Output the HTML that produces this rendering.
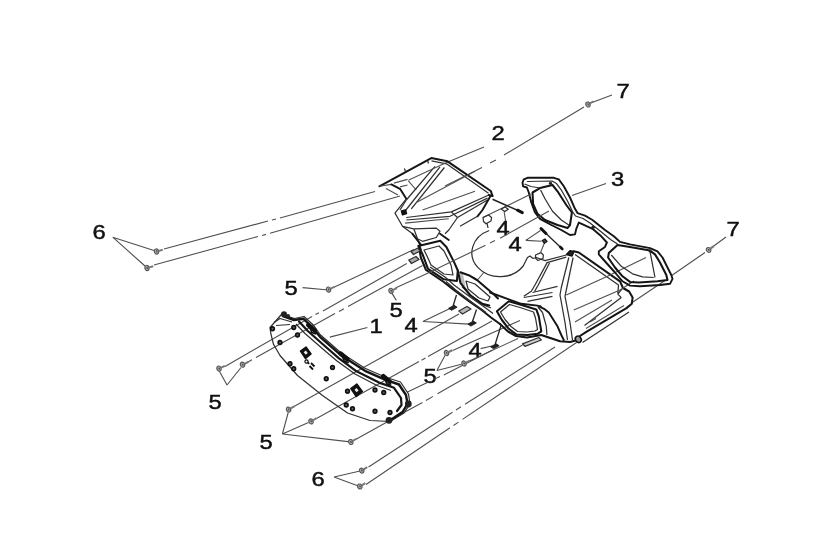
<!DOCTYPE html>
<html><head><meta charset="utf-8">
<style>
html,body{margin:0;padding:0;background:#fff;}
svg{display:block;filter:blur(0.45px);}
text{font-family:"Liberation Sans",sans-serif;font-size:20px;fill:#111;stroke:#111;stroke-width:0.45px;}
.t{fill:none;stroke:#505050;stroke-width:1.1;}
.m{fill:none;stroke:#303030;stroke-width:1.25;stroke-linejoin:round;}
.k{fill:none;stroke:#151515;stroke-width:2.05;stroke-linejoin:round;stroke-linecap:round;}
.b{fill:#222;stroke:none;}
</style></head><body>
<svg width="819" height="560" viewBox="0 0 819 560">
<rect width="819" height="560" fill="#fff"/>
<g id="labels">
<text transform="translate(623,97.9) scale(1.19,1)" text-anchor="middle">7</text>
<text transform="translate(498,140.4) scale(1.19,1)" text-anchor="middle">2</text>
<text transform="translate(617.5,185.70000000000002) scale(1.19,1)" text-anchor="middle">3</text>
<text transform="translate(733,235.9) scale(1.19,1)" text-anchor="middle">7</text>
<text transform="translate(99,238.9) scale(1.19,1)" text-anchor="middle">6</text>
<text transform="translate(503,234.9) scale(1.19,1)" text-anchor="middle">4</text>
<text transform="translate(515,250.9) scale(1.19,1)" text-anchor="middle">4</text>
<text transform="translate(291,294.9) scale(1.19,1)" text-anchor="middle">5</text>
<text transform="translate(396,316.9) scale(1.19,1)" text-anchor="middle">5</text>
<text transform="translate(411,331.9) scale(1.19,1)" text-anchor="middle">4</text>
<text transform="translate(376,332.9) scale(1.19,1)" text-anchor="middle">1</text>
<text transform="translate(475,356.9) scale(1.19,1)" text-anchor="middle">4</text>
<text transform="translate(430,382.9) scale(1.19,1)" text-anchor="middle">5</text>
<text transform="translate(215,408.9) scale(1.19,1)" text-anchor="middle">5</text>
<text transform="translate(266,448.9) scale(1.19,1)" text-anchor="middle">5</text>
<text transform="translate(318,485.9) scale(1.19,1)" text-anchor="middle">6</text>
</g>
<g id="lines" class="t">

<path d="M612,95 L592,102.5"/>
<path d="M584,107 L504,155 M496,160 L490,163 M482,167.5 L445,186"/>
<path d="M484,147 L446,162.8"/>
<path d="M606,183.4 L572,195.6"/>
<path d="M112.7,237.2 L154,250.5 M112.7,237.2 L145,266"/>
<path d="M164,249 L268,221 M272,220 L276,219 M280,218 L375,191.5"/>
<path d="M154,265 L258,236.5 M262,235.5 L266,234.4 M270,233.3 L400,196"/>
<path d="M302.6,287.6 L326,289.8"/>
<path d="M334,287.3 L413.8,249.6"/>
<path d="M395.4,288.1 L426,274.1"/>
<path d="M391,291.6 L396.3,300.4"/>
<path d="M367.4,327.5 L329.8,337.1"/>
<path d="M422.9,321.5 L450,308.4 M422.9,321.5 L469.3,324.1"/>
<path d="M480.6,348.6 L492,346"/>
<path d="M436.9,370.5 L445,355.5 M436.9,370.5 L461.5,364.2"/>
<path d="M726,237 L711,248 M705,252.5 L671,276"/>
<path d="M227,385 L219.5,371.5 M227,385 L241,367.5"/>
<path d="M282.4,434 L288.2,412.5 M282.4,434 L308.5,422.5 M282.4,434 L348,441.6"/>
<path d="M334,477 L359,471.3 M334,477 L357,485.5"/>
<path d="M368.5,467 L452.5,412.2 M456,410 L461,406.8 M465,404.2 L555,347"/>
<path d="M366,484.5 L450,427.8 M453.5,425.5 L458.5,422.1 M462.5,419.4 L578,341.5"/>
<path d="M665,280.5 L633,302"/>
<!-- C1 C2 -->
<path d="M225,366.4 L312,316.5 M315.5,314.6 L319,312.8 M323,311 L406.8,263.6"/>
<path d="M248,362 L252,359.8 M256,357.5 L335,313.6 M339,311.4 L344,308.7 M348,306.5 L422.5,265.4"/>
<!-- D1 D2 D3 -->
<path d="M294,406.6 L459,314"/>
<path d="M316.5,418.4 L419,361.6 M421.5,360.2 L425.5,358 M428,356.6 L492,321"/>
<path d="M356,439.2 L388,421.5 M392,419 L422.5,402.5 M426,400.5 L433,396.4 M437.5,393.8 L522.5,345"/>
<path d="M407,392.2 L430,381.3 M434,379.3 L440,376.6 M443.8,375 L492.5,350"/>
<!-- bolts 5 right -->
<path d="M452.6,350.4 L520,320.5 M469.3,360.9 L518,338.5"/>

</g>
<g id="bolts">
<g transform="translate(588,104.5) rotate(-30)"><ellipse cx="0" cy="0" rx="2.1" ry="2.6" fill="#bbb" stroke="#555" stroke-width="1.2"/><ellipse cx="0.2" cy="0" rx="0.9" ry="1.2" fill="#555" stroke="none"/><path d="M2.3,0 L6.5,0" stroke="#777" stroke-width="2" fill="none"/></g>
<g transform="translate(708.6,250) rotate(-37)"><ellipse cx="0" cy="0" rx="2.1" ry="2.6" fill="#bbb" stroke="#555" stroke-width="1.2"/><ellipse cx="0.2" cy="0" rx="0.9" ry="1.2" fill="#555" stroke="none"/><path d="M2.3,0 L6.5,0" stroke="#777" stroke-width="2" fill="none"/></g>
<g transform="translate(156.5,251.5) rotate(-15)"><ellipse cx="0" cy="0" rx="2.1" ry="2.6" fill="#bbb" stroke="#555" stroke-width="1.2"/><ellipse cx="0.2" cy="0" rx="0.9" ry="1.2" fill="#555" stroke="none"/><path d="M2.3,0 L6.5,0" stroke="#777" stroke-width="2" fill="none"/></g>
<g transform="translate(147,268) rotate(-15)"><ellipse cx="0" cy="0" rx="2.1" ry="2.6" fill="#bbb" stroke="#555" stroke-width="1.2"/><ellipse cx="0.2" cy="0" rx="0.9" ry="1.2" fill="#555" stroke="none"/><path d="M2.3,0 L6.5,0" stroke="#777" stroke-width="2" fill="none"/></g>
<g transform="translate(328.5,289.6) rotate(-25)"><ellipse cx="0" cy="0" rx="2.1" ry="2.6" fill="#bbb" stroke="#555" stroke-width="1.2"/><ellipse cx="0.2" cy="0" rx="0.9" ry="1.2" fill="#555" stroke="none"/><path d="M2.3,0 L6.5,0" stroke="#777" stroke-width="2" fill="none"/></g>
<g transform="translate(219,368.6) rotate(-25)"><ellipse cx="0" cy="0" rx="2.1" ry="2.6" fill="#bbb" stroke="#555" stroke-width="1.2"/><ellipse cx="0.2" cy="0" rx="0.9" ry="1.2" fill="#555" stroke="none"/><path d="M2.3,0 L6.5,0" stroke="#777" stroke-width="2" fill="none"/></g>
<g transform="translate(242.5,364.7) rotate(-25)"><ellipse cx="0" cy="0" rx="2.1" ry="2.6" fill="#bbb" stroke="#555" stroke-width="1.2"/><ellipse cx="0.2" cy="0" rx="0.9" ry="1.2" fill="#555" stroke="none"/><path d="M2.3,0 L6.5,0" stroke="#777" stroke-width="2" fill="none"/></g>
<g transform="translate(288.6,409.6) rotate(-30)"><ellipse cx="0" cy="0" rx="2.1" ry="2.6" fill="#bbb" stroke="#555" stroke-width="1.2"/><ellipse cx="0.2" cy="0" rx="0.9" ry="1.2" fill="#555" stroke="none"/><path d="M2.3,0 L6.5,0" stroke="#777" stroke-width="2" fill="none"/></g>
<g transform="translate(311,421.4) rotate(-30)"><ellipse cx="0" cy="0" rx="2.1" ry="2.6" fill="#bbb" stroke="#555" stroke-width="1.2"/><ellipse cx="0.2" cy="0" rx="0.9" ry="1.2" fill="#555" stroke="none"/><path d="M2.3,0 L6.5,0" stroke="#777" stroke-width="2" fill="none"/></g>
<g transform="translate(350.8,442) rotate(-30)"><ellipse cx="0" cy="0" rx="2.1" ry="2.6" fill="#bbb" stroke="#555" stroke-width="1.2"/><ellipse cx="0.2" cy="0" rx="0.9" ry="1.2" fill="#555" stroke="none"/><path d="M2.3,0 L6.5,0" stroke="#777" stroke-width="2" fill="none"/></g>
<g transform="translate(361.7,470.6) rotate(-32)"><ellipse cx="0" cy="0" rx="2.1" ry="2.6" fill="#bbb" stroke="#555" stroke-width="1.2"/><ellipse cx="0.2" cy="0" rx="0.9" ry="1.2" fill="#555" stroke="none"/><path d="M2.3,0 L6.5,0" stroke="#777" stroke-width="2" fill="none"/></g>
<g transform="translate(359.8,486.5) rotate(-32)"><ellipse cx="0" cy="0" rx="2.1" ry="2.6" fill="#bbb" stroke="#555" stroke-width="1.2"/><ellipse cx="0.2" cy="0" rx="0.9" ry="1.2" fill="#555" stroke="none"/><path d="M2.3,0 L6.5,0" stroke="#777" stroke-width="2" fill="none"/></g>
<g transform="translate(391,290.8) rotate(-25)"><ellipse cx="0" cy="0" rx="2.1" ry="2.6" fill="#bbb" stroke="#555" stroke-width="1.2"/><ellipse cx="0.2" cy="0" rx="0.9" ry="1.2" fill="#555" stroke="none"/><path d="M2.3,0 L6.5,0" stroke="#777" stroke-width="2" fill="none"/></g>
<g transform="translate(446.5,353) rotate(-25)"><ellipse cx="0" cy="0" rx="2.1" ry="2.6" fill="#bbb" stroke="#555" stroke-width="1.2"/><ellipse cx="0.2" cy="0" rx="0.9" ry="1.2" fill="#555" stroke="none"/><path d="M2.3,0 L6.5,0" stroke="#777" stroke-width="2" fill="none"/></g>
<g transform="translate(464,363.5) rotate(-25)"><ellipse cx="0" cy="0" rx="2.1" ry="2.6" fill="#bbb" stroke="#555" stroke-width="1.2"/><ellipse cx="0.2" cy="0" rx="0.9" ry="1.2" fill="#555" stroke="none"/><path d="M2.3,0 L6.5,0" stroke="#777" stroke-width="2" fill="none"/></g>
</g>
<!-- PART 2 : main frame -->
<g id="part2">
<!-- top panel -->
<path class="k" d="M379.4,186.3 L431.3,158.1 L447.5,161.3 L490.8,191 L492.5,196"/>
<path class="m" d="M431.5,160.8 L446.5,163.8 L488.5,193.3"/>
<path class="t" d="M379.4,186.3 L391.3,184.4"/>
<path class="k" style="stroke-width:1.9" d="M391.3,184.4 L400,188.8 L406.3,198.8"/>
<path class="m" d="M406.3,198.8 L395,213.1 L397.5,217.5 L402.5,226.3 L412.5,233.8 L418.8,242.5 L421.3,250"/>
<path class="t" d="M408.1,180.6 L416.3,190 M393.8,183.1 L407.5,179.4 M400,186.9 L407.5,185 M386,188.5 L398,195"/>
<path class="m" d="M404.4,168.5 L405.5,171.5 M427.5,160.5 L428.5,163.5"/>
<!-- diagonal bar -->
<path class="m" d="M435,166.3 L406.3,200 L400,210 M440,166.9 L405.5,210.5 M444.4,167.5 L411.3,208.8"/>
<path d="M401.5,211 L405.5,210 L406.5,213.5 L402.5,214.8 Z" fill="#111" stroke="#111" stroke-width="1.5" stroke-linejoin="round"/>
<!-- 2 leader extension + 7 line through panel -->
<path class="t" d="M446,162.8 L408.8,180 M475,171.3 L416.3,202.5"/>
<!-- V panel -->
<path class="m" d="M406.3,217.5 L451.3,211.9 L488.8,195"/>
<path class="m" d="M406.3,220 L450,216.3 L487.5,198.1"/>
<path class="t" d="M405,223.1 L448.8,218.8"/>
<path class="m" d="M451.3,211.9 L457.5,217.5 L448.8,230 L445,233.8 M457.5,217.5 L487.5,200"/>
<path class="t" d="M422.5,210 L475,191.3"/>
<path class="m" d="M402.5,226.3 L413.8,228.8 L436.3,228.1 L440,231.3 L436.3,237.5 L422.5,241.3 L417.5,238.8 L413.8,228.8"/>
<path class="k" style="stroke-width:1.9" d="M492.5,196 L488.8,195 M490.5,196 L482.5,210 L477.5,216.3"/>
<path class="m" d="M460,226.3 L477.5,216.3"/>
<path class="k" style="stroke-width:1.9" d="M412.5,233.8 L421.3,245 M440,233.8 L448.8,240"/>
</g>
<g id="part2b">
<!-- vent 1 -->
<path class="k" d="M418.4,246 L440.3,240.8 L446.4,247 L454.3,262.6 L457.8,270.5 L456.9,281 L443.8,279.3 L428,268.8 L422.8,254.8 Z"/>
<path class="m" d="M424,250 L439,246 L444,251 L451,265 L453,275 L444,274 L431,265 L427,256 Z"/>
<!-- left edge going down to front edge -->
<path class="k" d="M419,248 L421,258 L426,270 L443.8,282 L452.5,289 L470,302 L482.3,310.5 L491,317.5 L500,324"/>
<path class="m" d="M430,267 L445,277 L454,285 L471.5,298 L484,306.8 L493,313.6"/>
<path class="m" d="M446,281.5 L455,289.5 L472,302.5 L484,311"/>
<path class="t" d="M483.8,272.5 L477.5,280"/>
<path d="M459,272 L463,274 L465.5,287 L461.5,283.5 Z" fill="#bbb" stroke="none"/>
<path class="m" d="M448,283.8 L457,291.2 L474,304 L486,312.6 M462,286.5 L472,296.5 L484,305.2 L491,308"/>
<!-- vent 2 -->
<path class="k" d="M460.4,272.3 L470,275.8 L477,280 L494.5,295 L498,298.5"/>
<path class="k" d="M457.8,270.5 L460.4,282.8 L470,295 L482.3,303.8 L489.3,305.5"/>
<path class="m" d="M466,281 L475,284 L490,297 L488,301 L479,298 L468,289 Z"/>
<!-- ellipse (speedo hole) -->
<path class="m" d="M489.2,230.5 A28,24 0 1 0 523.2,266 L527.5,257.5 L530,256 L533,258.5"/>
<!-- vent 3 -->
<path class="k" d="M496.9,311.3 L508.8,301.3 L520,304.4 L536.3,309.4 L538.8,316.3 L541.3,331.3 L537.5,333.8 L527.5,335 L516.3,334.4 L508.8,328.8 L501.9,320 Z"/>
<path class="m" d="M500.5,312 L509.5,304.5 L520,307.5 L533.5,312 L535.5,318 L537.5,329.5 L535,331 L527,332 L517.5,331.5 L511,326.5 L505,319.5 Z"/>
<path class="k" style="stroke-width:1.9" d="M490,292.5 L508.8,299.4 L521.3,303.8 L537.5,305.6 L545,309.4 L548.8,312.5 L557.5,326.3 L561.3,335 L563.8,340"/>
<path class="m" d="M542.5,312.5 L546.3,326.3 L546.9,335 M538,307 L542.5,312.5"/>
<circle class="b" cx="540" cy="306.5" r="1.6"/>
<path class="k" d="M500,324 L508,331.5 L516,336 L527,337.5 L541.3,335 L560,341.3 L570,341.9 L577.5,340"/>
<path class="m" d="M522.5,343.8 L538.8,337.5 L541.3,340 L525,346.3 Z" fill="#bbb" style="fill:#ccc"/>
<!-- lines above vent 3 -->
<path class="m" d="M523.8,297.5 L552.5,292.5 M527.5,301.3 L552.5,296.3"/>
<!-- column -->
<path class="m" d="M568.8,257.5 L561.3,287.5 L560,295 L565,322.5 L567.5,340 M573.1,257.5 L566.3,290 L565,296.3 L570,322.5 L572.5,340"/>
<!-- peak blob -->
<path d="M566.5,254.5 L570,250.8 L574,251.5 L572,256 Z" fill="#222" stroke="#111" stroke-width="1.5" stroke-linejoin="round"/>
<!-- right face -->
<path class="k" d="M573.8,251.3 L578.8,252.5 L620,281.3 L623,288 L629.1,291.5 L632.6,297.6 L631.8,303.8 L626.5,308.1 L586.3,331.8 L580,336"/>
<path class="m" d="M575,254.5 L618.5,285 L617.8,294.1 M617.8,294.1 L622.1,288.9 M621.3,297.6 L584.5,325.6 M617.8,294.1 L621.3,297.6"/>
<path class="m" d="M582.5,342.5 L629,312"/>
<path class="t" d="M575,322 L612,300 M586,328.5 L624,305.5 M590,322 L596,318.5"/>
<path class="t" d="M573.8,310 L620,290 L634,281 M566.3,295 L607.5,276.3 L646,257.5"/>
<ellipse cx="578.3" cy="339.3" rx="2.7" ry="3.4" fill="#999" stroke="#111" stroke-width="1.5" transform="rotate(-35 578.3 339.3)"/>
<!-- left from peak -->
<path class="m" d="M566.3,255 L545,260.6 L536.3,257.5 L533,258.5 M566.3,257.2 L546.3,262.8"/>
<path class="m" d="M546.9,263.1 L535,285 L531.3,291.3 L523.8,296.3 M549.5,263 L538,285.5 L534.5,291.5"/>
<path class="m" d="M532.5,292.5 L557.5,286.3"/>
</g>
<!-- PART 3 -->
<g id="part3">
<!-- outer -->
<path class="k" style="stroke-width:1.9" d="M522.5,182.5 L523.8,179.4 L527.5,177.8 L553.8,177.8 L558.8,179.4 L563.8,186.3 L570,197.5 L575,208.8 L577.5,213.1 L585,215.6 L592.5,220 L605,230 L613.8,236.3 L620,241.9 L630,244.4 L650,248.1 L657.5,251.3 L662.5,257.5 L667.5,267.5 L671.3,275 L672.5,278.8 L670,283.8 L660,285 L640,286.3 L630,285.6 L622.5,281.3 L615,272.5 L603.8,260 L598.8,254.4 L598.8,251.3 L605,246.9 L606.9,242.5 L601.3,236.3 L592.5,228.8 L580,223.1 L578.8,222.5 L576.3,228.8 L575,234.4 L570,235 L561.3,230 L551.3,225 L540,218.8 L535,212.5 L531.3,202.5 L528.8,192.5 L526.9,187.5 L523.1,186.3 Z"/>
<!-- inner parallel (face) -->
<path class="m" d="M527,181.5 L552,181 L556.5,183.5 L561,189.5 L567.5,201 L572.5,211.5 L575.5,216 L583,218.5 L590,223 L602,232.5 L610.5,239.5 L617.5,244"/>
<path class="m" d="M524.5,184 L531,186.5 L540,188"/>
<!-- left opening -->
<path class="k" d="M532.5,192.5 L540,188.1 L552.5,185 L557.5,191.3 L566.3,205 L571.9,212.5 L570,225 L567.5,228.1 L557.5,225 L545,220 L537.5,213.8 L533.1,203.8 Z"/>
<path class="m" d="M540.6,190 L545,198.8 L552.5,211.3 L561.3,220 L568.8,225"/>
<circle class="b" cx="550.5" cy="183.3" r="1.6"/>
<!-- right opening -->
<path class="k" d="M617.5,245 L630,246.9 L650,250.6 L655,254.4 L660,262.5 L666.3,275 L667.5,280 L657.5,281.3 L638.8,282.5 L630,281.9 L622.5,276.3 L615,267.5 L608.1,257.5 L608.8,253.1 Z"/>
<path class="m" d="M611.3,255 L621.3,266.3 L632.5,273.8 L642.5,276.9 L653.8,277.5"/>
<path class="m" d="M650,251.3 L651.9,261.3 L655,277.5"/>
<circle class="b" cx="650" cy="251" r="1.5"/>
<circle class="b" cx="593" cy="227.5" r="1.8"/>
</g>
<!-- PART 1 -->
<g id="part1">
<path class="m" d="M270,327.5 L275.3,321.5 L281.4,314.5 L287.5,316.3 L294.5,318.5 L304,316.5 L313.8,325.5 L320,334.5 L340,352 L347.5,357 L365,368.2 L385,377 L400.5,382 L408.5,394 L410,403.8 L404,413 L390,421.5 L370,420.5 L347.5,413 L322.5,395.5 L297.5,375.5 L280,355.5 L273.5,344.3 L270.9,333.8 Z"/>
<path class="k" style="stroke-width:2.4" d="M283,316 L294,320 L303.5,318.8 L312.5,327.5 L320,336.8 L340,354.3 L347.5,359.5 L365,370.8 L385,379.6 L399,384.5 L406,395 L407.5,403.8 L402.5,412 L392,419"/>
<path class="k" style="stroke-width:2.2" d="M299,321.5 L307.8,331 L326.5,347.5 L339,358.3 L356.5,371.3 L379,382.6 L394,387.8 L401,398 L401.5,405 L397,411"/>
<path class="m" d="M296,324 L305,333.5 L324,350 L337,361 L355,374 L377,385.5 L391,390.5"/>
<path class="m" d="M274,322.5 L280,318.5 L292,322 M276,325.5 L290,324.5"/>
<circle class="b" cx="284" cy="314.3" r="3"/>
<circle class="b" cx="288" cy="316" r="2"/>
<circle class="b" cx="408.3" cy="404" r="3.4"/>
<circle class="b" cx="389" cy="420.3" r="3.4"/>
</g>

<g id="part1d">
<circle cx="272.5" cy="328.75" r="1.8" fill="#666" stroke="#111" stroke-width="1.7"/>
<circle cx="293.75" cy="327.5" r="1.8" fill="#666" stroke="#111" stroke-width="1.7"/>
<circle cx="297.5" cy="335" r="1.8" fill="#666" stroke="#111" stroke-width="1.7"/>
<circle cx="280" cy="342.5" r="1.8" fill="#666" stroke="#111" stroke-width="1.7"/>
<circle cx="290" cy="363.75" r="1.8" fill="#666" stroke="#111" stroke-width="1.7"/>
<circle cx="293.75" cy="368.75" r="1.8" fill="#666" stroke="#111" stroke-width="1.7"/>
<circle cx="332.5" cy="367.5" r="1.8" fill="#666" stroke="#111" stroke-width="1.7"/>
<circle cx="326.25" cy="378.75" r="1.8" fill="#666" stroke="#111" stroke-width="1.7"/>
<circle cx="347.5" cy="391.25" r="1.8" fill="#666" stroke="#111" stroke-width="1.7"/>
<circle cx="375" cy="390" r="1.8" fill="#666" stroke="#111" stroke-width="1.7"/>
<circle cx="383.75" cy="392.5" r="1.8" fill="#666" stroke="#111" stroke-width="1.7"/>
<circle cx="346.25" cy="405" r="1.8" fill="#666" stroke="#111" stroke-width="1.7"/>
<circle cx="352.5" cy="408.75" r="1.8" fill="#666" stroke="#111" stroke-width="1.7"/>
<circle cx="375" cy="411.25" r="1.8" fill="#666" stroke="#111" stroke-width="1.7"/>
<circle cx="390" cy="412.5" r="1.8" fill="#666" stroke="#111" stroke-width="1.7"/>
<path d="M300.5,351.0 L306.0,347.0 L311.0,354.0 L305.5,358.5 Z" fill="#111" stroke="#111" stroke-width="1.5" stroke-linejoin="round"/>
<path d="M303.7,352.2 L305.8,350.5 L307.8,353.0 L305.7,354.8 Z" fill="#eee"/>
<path d="M350.8,388.5 L356.8,384.0 L362.3,391.5 L356.3,396.5 Z" fill="#111" stroke="#111" stroke-width="1.5" stroke-linejoin="round"/>
<path d="M354.5,389.7 L356.6,388 L358.6,390.5 L356.5,392.3 Z" fill="#eee"/>
<path d="M308.3,325.0 L314.8,330.5" stroke="#111" stroke-width="4.6" stroke-linecap="round"/>
<path d="M310.3,328.5 L311.8,332.5 L316.3,334.0" stroke="#111" stroke-width="1.6" fill="none"/>
<path d="M340.8,353.8 L347.3,359.3" stroke="#111" stroke-width="4.6" stroke-linecap="round"/>
<path d="M342.8,357.3 L344.3,361.3 L348.8,362.8" stroke="#111" stroke-width="1.6" fill="none"/>
<path d="M383.3,376.3 L389.8,381.8" stroke="#111" stroke-width="4.6" stroke-linecap="round"/>
<path d="M385.3,379.8 L386.8,383.8 L391.3,385.3" stroke="#111" stroke-width="1.6" fill="none"/>
<path d="M306,360 L309,364 M309.5,366 L313,369.5 M311,363 L314.5,366.5" stroke="#111" stroke-width="1.8" fill="none"/>
<circle cx="306.5" cy="361.5" r="1.6" fill="#fff" stroke="#111" stroke-width="1.2"/>
</g>
<g id="clips">
<path d="M448.6,308.3 L454.1,305.3 L457.1,307.2 L451.6,310.3 Z" fill="#222" stroke="#111" stroke-width="0.8"/>
<path d="M453.1,306.0 L456.5,295" stroke="#222" stroke-width="1.3" fill="none"/>
<path d="M467.9,324.1 L473.4,321.1 L476.4,323.0 L470.9,326.1 Z" fill="#222" stroke="#111" stroke-width="0.8"/>
<path d="M472.4,321.8 L476.5,309.5" stroke="#222" stroke-width="1.3" fill="none"/>
<path d="M490.6,346.8 L496.1,343.8 L499.1,345.7 L493.6,348.8 Z" fill="#222" stroke="#111" stroke-width="0.8"/>
<path d="M495.1,344.5 L501.5,324" stroke="#222" stroke-width="1.3" fill="none"/>
<path class="m" d="M458.8,311 L467,306.5 L471,309 L462.5,314 Z" style="fill:#bbb"/>
<path class="m" d="M408.8,260 L416,256.5 L419,259.5 L411.5,263.5 Z" style="fill:#aaa"/>
<path class="m" d="M411,251.5 L418,248 L420,251 L413.5,254.5 Z" style="fill:#aaa"/>
</g>
<g id="center-details">
<!-- axis lines through centre -->
<path class="t" d="M482.9,217.6 L531,194"/>
<path class="t" d="M426,274.1 L485.5,245.2 M490,243 L495,240.6 M500,238.2 L549,211"/>

<!-- screw 1 -->
<path d="M492.5,199.3 L518,210.5" stroke="#222" stroke-width="1.5" fill="none"/>
<path d="M517.5,210.2 L522.3,212.6" stroke="#111" stroke-width="3" stroke-linecap="round" fill="none"/>
<!-- clip upper + leader -->
<path class="m" d="M501.3,209 L505,207 L508.3,209.3 L504.5,211.6 Z"/>
<path class="t" d="M505.6,221 L504.2,212"/>
<!-- bracket -->
<path class="m" d="M483,217.5 L488.5,215 L491.6,217.5 L491,221 L486,223.8 L483.5,221.5 Z M487,223 L488,228"/>
<!-- screw 2 -->
<path d="M541,228.5 L546,233.5" stroke="#111" stroke-width="3" stroke-linecap="round" fill="none"/>
<path d="M546,233.5 L560.5,247.3" stroke="#222" stroke-width="1.3" fill="none"/>
<path d="M560.3,247 L562.3,249" stroke="#111" stroke-width="2.6" stroke-linecap="round" fill="none"/>
<!-- nut -->
<path d="M542.3,240.5 L545,239 L547,241.5 L544.3,243.5 Z" fill="#444" stroke="#111" stroke-width="1.2"/>
<path class="t" d="M525.8,240.4 L540.5,230.5 M525.8,240.4 L541.5,241.3"/>
<!-- clip below nut -->
<path class="m" d="M535.5,255 L541,252.6 L543.3,255 L543,258.5 L538,260.5 L535.6,258.3 Z"/>
<path class="t" d="M544,244 L540.5,252.6"/>
</g>

</svg>
</body></html>
